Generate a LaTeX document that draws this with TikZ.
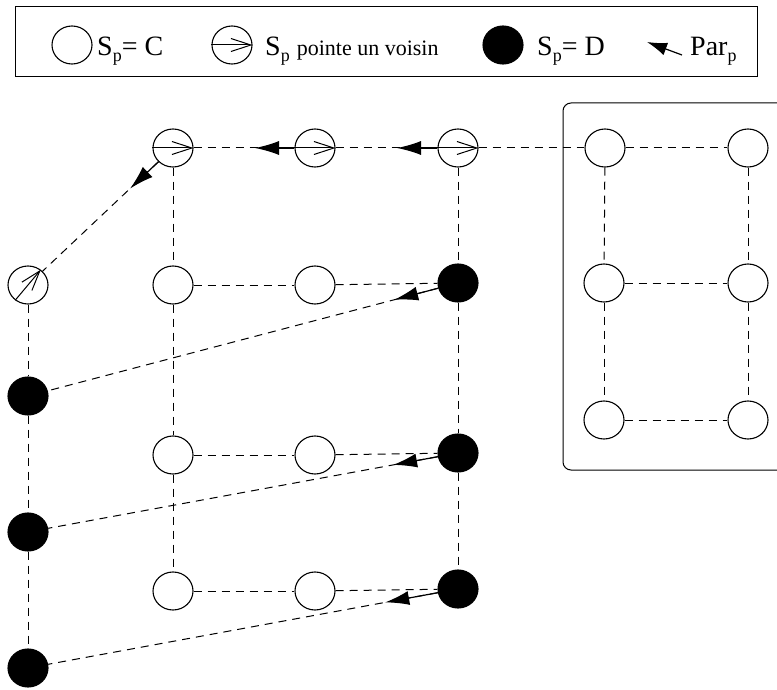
\documentclass[tikz,border=0pt]{standalone}
\usepackage{fontspec}
\setmainfont{Liberation Serif}
\usetikzlibrary{arrows.meta,shapes.geometric,calc}

\newcommand{\indp}{\raisebox{-6pt}{\fontsize{18}{18}\selectfont p}}

\begin{document}
\begin{tikzpicture}[x=1pt,y=-1pt,
	etat/.style={ellipse,draw,line width=1.1pt,minimum width=40pt,minimum height=38pt,inner sep=0pt},
	etatD/.style={etat,fill=black},
	lien/.style={dash pattern=on 8pt off 6pt,line width=1pt},
	par/.style={-{Latex[length=24pt,width=14pt]},line width=1.2pt},
	pointe/.style={-{Straight Barb[length=20pt,width=13pt]},line width=1pt},
	texte/.style={anchor=base west,inner sep=0pt,font=\fontsize{28}{30}\selectfont}]

	\clip (0,0) rectangle (777,690);

		\begin{scope}
			\draw[line width=1pt] (15,7) rectangle (757,77);
			\node[etat] (lc) at (72,45) {};
			\node[texte] (lct) at (97,56) {S\indp= C};
			\node[etat] (lp) at (232,45) {};
			\draw[pointe] (lp.west) -- (lp.east);
			\node[texte] (lpt) at (265,56) {S\indp\ {\fontsize{22}{24}\selectfont pointe un voisin}};
			\node[etatD] (ld) at (503,45) {};
			\node[texte] (ldt) at (537,56) {S\indp= D};
			\coordinate (lqa) at (682,55);
			\coordinate (lqb) at (647,42);
			\draw[-{Latex[length=20pt,width=13pt]},line width=1.2pt] (lqa) -- (lqb);
			\node[texte] (lqt) at (690,56) {Par\indp};
		\end{scope}

		\draw[line width=1pt,rounded corners=8pt] (563,103) rectangle (800,470);

		% sommets
		\node[etat] (t1) at (173,148) {};
		\node[etat] (t2) at (315,148) {};
		\node[etat] (t3) at (458,148) {};
		\node[etat] (a1) at (173,285) {};
		\node[etat] (a2) at (315,285) {};
		\node[etatD] (a3) at (458,283) {};
		\node[etat] (b1) at (173,455) {};
		\node[etat] (b2) at (315,455) {};
		\node[etatD] (b3) at (458,453) {};
		\node[etat] (c1) at (173,591) {};
		\node[etat] (c2) at (315,591) {};
		\node[etatD] (c3) at (458,589) {};
		\node[etat] (l1) at (28,285) {};
		\node[etatD] (l2) at (28,396) {};
		\node[etatD] (l3) at (28,532) {};
		\node[etatD] (l4) at (28,668) {};
		\node[etat] (r11) at (605,148) {};
		\node[etat] (r12) at (748,148) {};
		\node[etat] (r21) at (604,283) {};
		\node[etat] (r22) at (748,283) {};
		\node[etat] (r31) at (604,420) {};
		\node[etat] (r32) at (748,420) {};

		% aretes
		\foreach \u/\v in {t1/t2,t2/t3,t3/r11,r11/r12,t1/a1,a1/b1,b1/c1,t3/a3,a3/b3,b3/c3,
			a1/a2,a2/a3,b1/b2,b2/b3,c1/c2,c2/c3,l1/l2,l2/l3,l3/l4,t1/l1,a3/l2,b3/l3,c3/l4,
			r11/r21,r21/r31,r12/r22,r22/r32,r21/r22,r31/r32}
			\draw[lien] (\u) -- (\v);

		% pointeurs
		\foreach \n in {t1,t2,t3}
			\draw[pointe] (\n.west) -- (\n.east);
		\draw[pointe] (l1.230) -- (l1.50);

		% Par
		\draw[par] (t2) -- ($(t2)!60pt!(t1)$);
		\draw[par] (t3) -- ($(t3)!61pt!(t2)$);
		\draw[par] (t1) -- ($(t1)!59pt!(l1)$);
		\draw[par] (a3) -- ($(a3)!66pt!(l2)$);
		\draw[par] (b3) -- ($(b3)!66pt!(l3)$);
		\draw[par] (c3) -- ($(c3)!74pt!(l4)$);

	\end{tikzpicture}
\end{document}
